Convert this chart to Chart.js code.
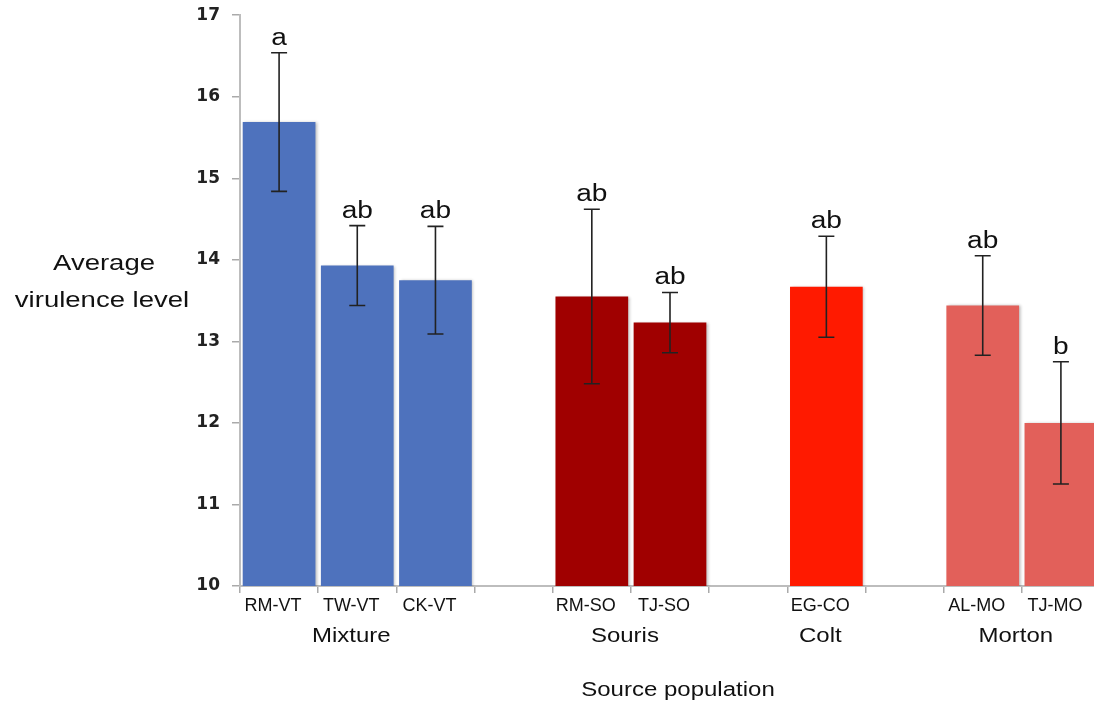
<!DOCTYPE html>
<html>
<head>
<meta charset="utf-8">
<script src="https://cdn.jsdelivr.net/npm/chart.js@4.4.1/dist/chart.umd.min.js"></script>
<style>
  html, body { margin: 0; padding: 0; background: #fff; overflow: hidden; }
  #wrap { width: 1100px; height: 705px; overflow: hidden; }
  #chart { display: block; margin-top: -7px; }
</style>
</head>
<body>
<div id="wrap"><canvas id="chart" width="1100" height="712"></canvas></div>
<script>
// categories ('' = empty gap slot between groups)
const categories = ['RM-VT', 'TW-VT', 'CK-VT', '', 'RM-SO', 'TJ-SO', '', 'EG-CO', '', 'AL-MO', 'TJ-MO'];
const means      = [15.69, 13.93, 13.75, null, 13.55, 13.23, null, 13.67, null, 13.44, 12.00];
const errors     = [0.85, 0.49, 0.66, null, 1.07, 0.37, null, 0.62, null, 0.61, 0.75];
const letters    = ['a', 'ab', 'ab', '', 'ab', 'ab', '', 'ab', '', 'ab', 'b'];
const barColors  = ['#4e72bd', '#4e72bd', '#4e72bd', null, '#a00000', '#a00000', null, '#ff1a00', null, '#e2605a', '#e2605a'];
const groupNames = ['Mixture', 'Souris', 'Colt', 'Morton'];
const groupSlots = [[0, 2], [4, 5], [7, 7], [9, 10]];
const yTicks     = [10, 11, 12, 13, 14, 15, 16, 17];

const SANS = '"Liberation Sans", Arial, sans-serif';
const SHIFT = 7; // canvas sits 7px above the page top

// text in the source is a little wide, so stretch it sideways
function wideText(ctx, txt, x, y, size, sx) {
  ctx.save();
  ctx.translate(x, y);
  ctx.scale(sx, 1);
  ctx.font = size + 'px ' + SANS;
  ctx.fillText(txt, 0, 0);
  ctx.restore();
}

// error bars, significance letters, group labels and axis titles
const extras = {
  id: 'extras',
  beforeDatasetsDraw(chart) {
    const ctx = chart.ctx;
    ctx.save();
    ctx.shadowColor = 'rgba(0,0,0,0.28)';
    ctx.shadowBlur = 3;
    ctx.shadowOffsetX = 1.5;
  },
  afterDatasetsDraw(chart) {
    const ctx = chart.ctx;
    ctx.restore();
    const y = chart.scales.y;
    const meta = chart.getDatasetMeta(0);
    ctx.save();
    ctx.strokeStyle = '#222';
    ctx.fillStyle = '#111';
    ctx.lineWidth = 1.6;
    ctx.textAlign = 'center';
    ctx.textBaseline = 'alphabetic';
    meta.data.forEach((bar, i) => {
      if (means[i] == null) return;
      const x = bar.x;
      const top = y.getPixelForValue(means[i] + errors[i]);
      const bot = y.getPixelForValue(means[i] - errors[i]);
      ctx.beginPath();
      ctx.moveTo(x, top); ctx.lineTo(x, bot);
      ctx.moveTo(x - 8, top); ctx.lineTo(x + 8, top);
      ctx.moveTo(x - 8, bot); ctx.lineTo(x + 8, bot);
      ctx.stroke();
      wideText(ctx, letters[i], x, top - 8, 23, 1.22);
    });
    ctx.restore();
  },
  afterDraw(chart) {
    const ctx = chart.ctx;
    const x = chart.scales.x;
    ctx.save();
    ctx.fillStyle = '#111';
    ctx.textAlign = 'center';
    ctx.textBaseline = 'middle';
    groupNames.forEach((g, k) => {
      const [a, b] = groupSlots[k];
      const cx = (x.getPixelForValue(a) + x.getPixelForValue(b)) / 2 - 6;
      wideText(ctx, g, cx, 636 + SHIFT, 20, 1.2);
    });
    wideText(ctx, 'Source population', 678, 690 + SHIFT, 20, 1.2);
    wideText(ctx, 'Average', 104, 264 + SHIFT, 22, 1.25);
    wideText(ctx, 'virulence level', 102, 301 + SHIFT, 22, 1.25);
    ctx.restore();
  }
};

new Chart(document.getElementById('chart'), {
  type: 'bar',
  data: {
    labels: categories,
    datasets: [{
      data: means,
      backgroundColor: barColors,
      borderWidth: 0,
      barPercentage: 0.93,
      categoryPercentage: 1.0
    }]
  },
  options: {
    responsive: false,
    animation: false,
    layout: { padding: { top: 8, left: 0, right: 0, bottom: 0 } },
    plugins: { legend: { display: false }, tooltip: { enabled: false } },
    scales: {
      x: {
        afterFit(scale) { scale.height = 119; },
        border: { color: '#bdbdbd', width: 2 },
        grid: { display: true, drawOnChartArea: false, offset: true, tickLength: 7, color: '#aaa', lineWidth: 1.5 },
        ticks: {
          color: '#111', padding: 2, maxRotation: 0, autoSkip: false, labelOffset: -6,
          font: { family: SANS, size: 18 }
        }
      },
      y: {
        min: 10, max: 17,
        afterFit(scale) { scale.width = 240; },
        afterBuildTicks(scale) { scale.ticks = yTicks.map(v => ({ value: v })); },
        border: { color: '#bdbdbd', width: 2 },
        grid: { display: true, drawOnChartArea: false, tickLength: 8, color: '#aaa', lineWidth: 1.5 },
        ticks: {
          color: '#222', padding: 12,
          font: { family: '"DejaVu Sans", sans-serif', size: 17, weight: 'bold' }
        }
      }
    }
  },
  plugins: [extras]
});
</script>
</body>
</html>
